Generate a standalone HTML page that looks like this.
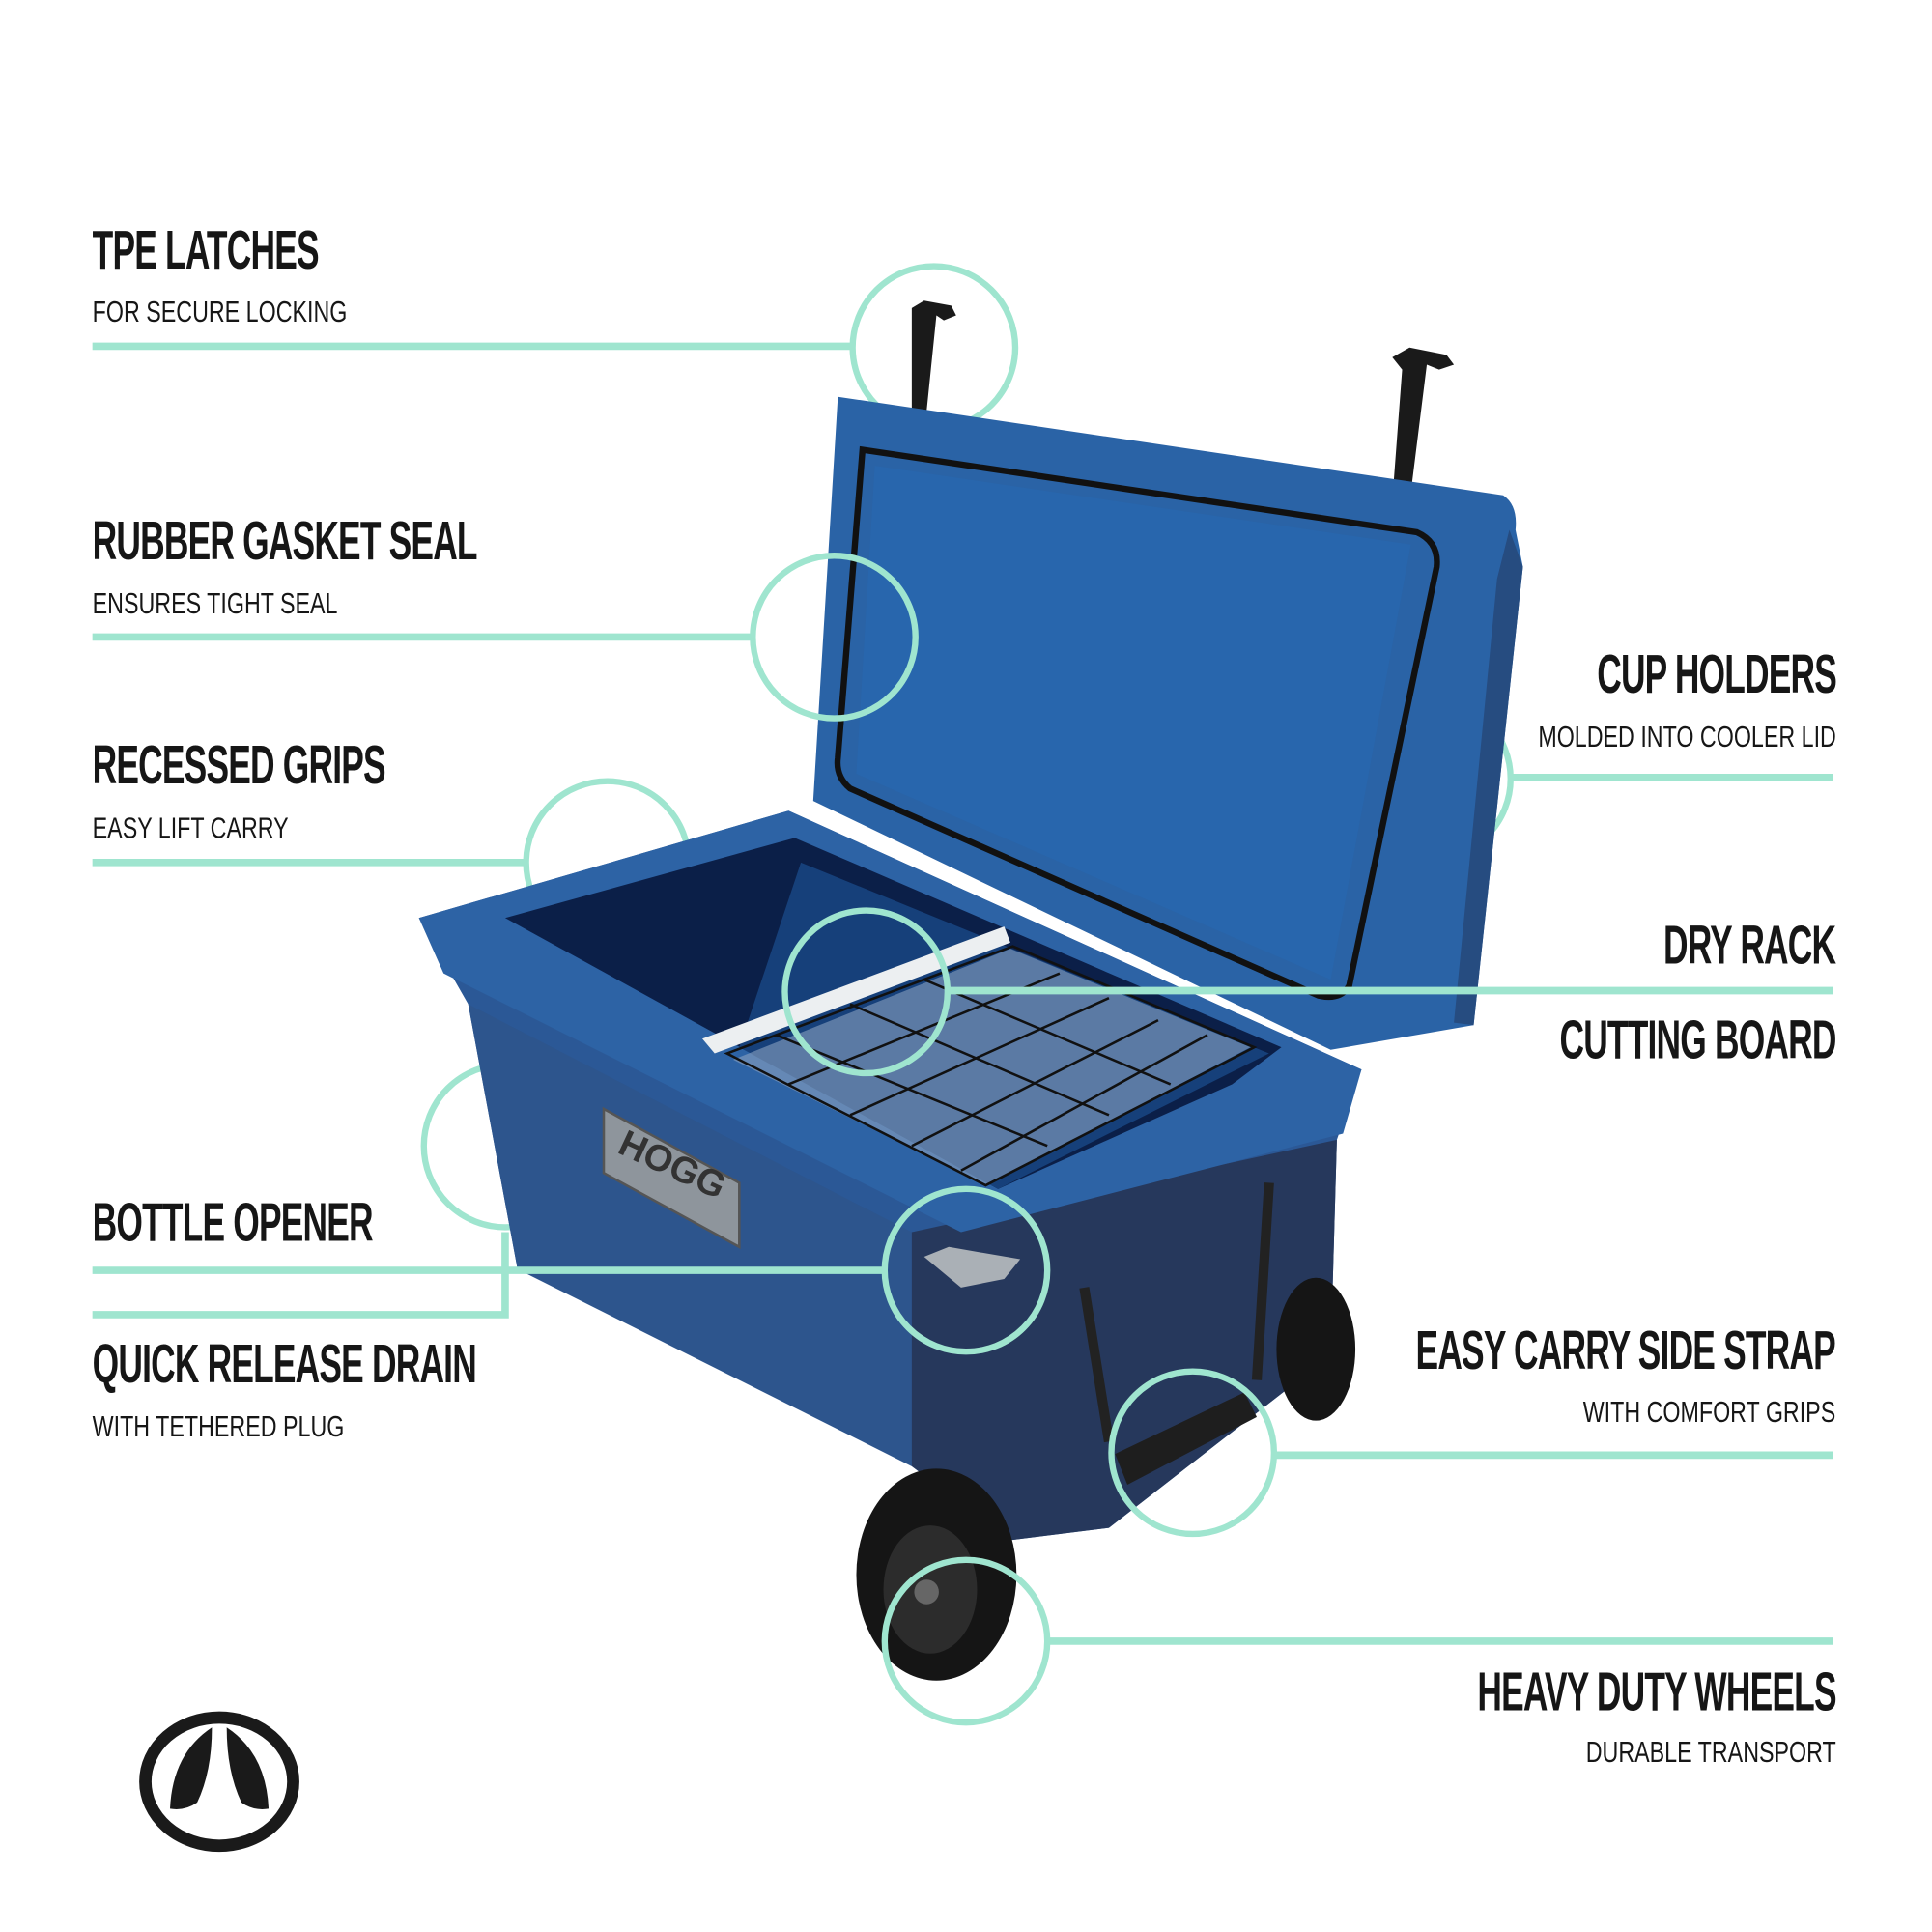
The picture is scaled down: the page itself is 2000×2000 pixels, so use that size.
<!DOCTYPE html>
<html><head><meta charset="utf-8"><style>
html,body{margin:0;padding:0;background:#fff;overflow:hidden;}
#w{position:absolute;left:0;top:0;width:1560px;height:1560px;transform:scale(1.2755);transform-origin:0 0;overflow:hidden;}
.t{position:absolute;font-family:"Liberation Sans",sans-serif;font-weight:bold;font-size:44px;color:#161616;white-space:nowrap;line-height:1;letter-spacing:-1px;}
.s{position:absolute;font-family:"Liberation Sans",sans-serif;font-size:24px;color:#161616;white-space:nowrap;line-height:1;}
.t.l{transform:scaleX(0.63);transform-origin:0 0;}
.t.r{transform:scaleX(0.63);transform-origin:100% 0;text-align:right;}
.s.l{transform:scaleX(0.76);transform-origin:0 0;}
.s.r{transform:scaleX(0.76);transform-origin:100% 0;text-align:right;}
svg{position:absolute;left:0;top:0;}
</style></head><body><div id="w">
<svg width="1560" height="1560" viewBox="0 0 1560 1560">
<g fill="none" stroke="#9fe5cf" stroke-width="5">
<circle cx="758" cy="282" r="66"/>
<circle cx="493" cy="700" r="66"/>
<circle cx="1160" cy="632" r="66"/>
<circle cx="410" cy="930" r="66"/>
</g>
<g fill="#1a1a1a">
<path d="M740 250 l10 -6 l22 4 l4 8 l-10 4 l-6 -4 l-8 78 l-12 0 z"/>
<path d="M1130 290 l14 -8 l30 6 l6 8 l-12 4 l-10 -4 l-14 112 l-14 -2 l8 -106 z"/>
</g>
<path d="M680 322 L1220 402 Q1232 410 1230 430 L1236 460 L1196 832 L1080 852 L660 650 Z" fill="#2a63a6"/>
<path d="M700 365 L1150 432 Q1168 440 1166 460 L1095 800 Q1088 812 1070 808 L690 640 Q678 630 680 615 Z" fill="none" stroke="#111" stroke-width="5"/>
<path d="M710 378 L1145 442 L1080 795 L695 628 Z" fill="#2866ad"/>
<path d="M1225 430 L1236 460 L1196 832 L1180 830 L1215 470 Z" fill="#264c80"/>
<path d="M340 745 L640 658 L1105 868 L1085 925 L1080 1100 L900 1240 L820 1250 L740 1190 L420 1030 L380 815 Z" fill="#2b5896"/>
<path d="M380 815 L740 1000 L740 1190 L420 1030 Z" fill="#2d558d"/>
<path d="M740 1000 L1085 925 L1080 1100 L900 1240 L820 1250 L740 1190 Z" fill="#26385c"/>
<path d="M340 745 L640 658 L1105 868 L1090 920 L780 1000 L360 790 Z" fill="#2d63a5"/>
<path d="M410 745 L645 680 L1040 850 L1000 880 L810 965 Z" fill="#0b1f48"/>
<path d="M650 700 L1030 855 L810 965 L600 850 Z" fill="#16407a"/>
<path d="M570 843 L815 752 L820 765 L580 855 Z" fill="#eceff1"/>
<path d="M595 860 L820 770 L1015 850 L800 962 Z" fill="#8aa2c0" opacity="0.6"/>
<g stroke="#111" stroke-width="2" fill="none">
<path d="M590 855 L822 768 L1018 850 L800 962 Z"/>
<path d="M640 880 L860 790 M690 905 L900 810 M740 930 L940 828 M780 950 L980 840"/>
<path d="M630 840 L850 930 M690 815 L900 905 M750 795 L950 880"/>
</g>
<path d="M490 900 L600 960 L600 1012 L490 952 Z" fill="#8e959c" stroke="#555" stroke-width="2"/>
<text x="500" y="935" font-family="Liberation Sans" font-weight="bold" font-size="30" fill="#333" transform="rotate(25 500 935)">HOGG</text>
<path d="M750 1020 L770 1012 L828 1022 L815 1038 L780 1045 Z" fill="#aab0b6"/>
<ellipse cx="1068" cy="1095" rx="32" ry="58" fill="#151515"/>
<ellipse cx="760" cy="1278" rx="65" ry="86" fill="#151515"/>
<ellipse cx="755" cy="1290" rx="38" ry="52" fill="#2c2c2c"/>
<circle cx="752" cy="1292" r="10" fill="#666"/>
<path d="M880 1045 L900 1170 M1030 960 L1020 1120" stroke="#222" stroke-width="8" fill="none"/>
<path d="M905 1180 L1010 1130 L1020 1150 L915 1205 Z" fill="#1e1e1e"/>
<g stroke="#9fe5cf" stroke-width="6" fill="none">
<path d="M75 281 H692 M75 517 H612 M75 700 H428 M75 1031 H718 M75 1067 H410 V1000 M1228 631 H1488 M770 804 H1488 M1035 1181 H1488 M850 1332 H1488"/>
</g>
<g fill="none" stroke="#9fe5cf" stroke-width="5">
<circle cx="677" cy="517" r="66"/>
<circle cx="703" cy="805" r="66"/>
<circle cx="784" cy="1031" r="66"/>
<circle cx="968" cy="1179" r="66"/>
<circle cx="784" cy="1332" r="66"/>
</g>
<ellipse cx="178" cy="1446" rx="60" ry="52" fill="none" stroke="#1a1a1a" stroke-width="10"/>
<path d="M172 1402 Q140 1423 138 1468 Q150 1470 160 1463 Q172 1438 172 1402 Z" fill="#1a1a1a"/>
<path d="M184 1402 Q216 1423 218 1468 Q206 1470 196 1463 Q184 1438 184 1402 Z" fill="#1a1a1a"/>
</svg>
<div class="t l" style="left:75px;top:182px">TPE LATCHES</div>
<div class="s l" style="left:75px;top:242px">FOR SECURE LOCKING</div>
<div class="t l" style="left:75px;top:418px">RUBBER GASKET SEAL</div>
<div class="s l" style="left:75px;top:479px">ENSURES TIGHT SEAL</div>
<div class="t l" style="left:75px;top:600px">RECESSED GRIPS</div>
<div class="s l" style="left:75px;top:661px">EASY LIFT CARRY</div>
<div class="t l" style="left:75px;top:971px">BOTTLE OPENER</div>
<div class="t l" style="left:75px;top:1086px">QUICK RELEASE DRAIN</div>
<div class="s l" style="left:75px;top:1147px">WITH TETHERED PLUG</div>
<div class="t r" style="right:70px;top:526px">CUP HOLDERS</div>
<div class="s r" style="right:70px;top:587px">MOLDED INTO COOLER LID</div>
<div class="t r" style="right:70px;top:746px">DRY RACK</div>
<div class="t r" style="right:70px;top:823px">CUTTING BOARD</div>
<div class="t r" style="right:70px;top:1075px">EASY CARRY SIDE STRAP</div>
<div class="s r" style="right:70px;top:1135px">WITH COMFORT GRIPS</div>
<div class="t r" style="right:70px;top:1352px">HEAVY DUTY WHEELS</div>
<div class="s r" style="right:70px;top:1411px">DURABLE TRANSPORT</div>
</div></body></html>
